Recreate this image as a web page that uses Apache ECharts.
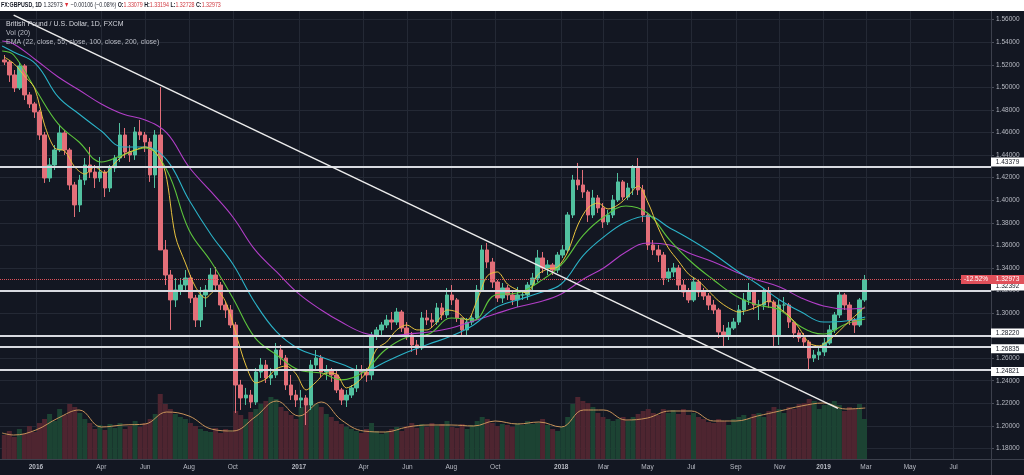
<!DOCTYPE html>
<html><head><meta charset="utf-8">
<script src="https://cdn.jsdelivr.net/npm/echarts@6/dist/echarts.min.js"></script>
<style>html,body{margin:0;padding:0;background:#131722;}#c{width:1024px;height:475px;}</style>
</head><body><div id="c"></div>
<script>
// ---------- DATA (weekly candles) ----------
const firstDate = '2015-11-18';   // first weekly candle
const firstOpen = 1.5243;
const closes = [
1.5225,1.5110,1.4995,1.5190,1.4933,1.4853,1.4782,1.4578,1.4197,1.4312,
1.4445,1.4596,1.4445,1.4135,1.3958,1.4179,1.4312,1.4250,1.4197,1.4250,
1.4108,1.4286,1.4374,1.4578,1.4427,1.4401,1.4605,1.4578,1.4516,1.4224,
1.4578,1.3559,1.3337,1.3116,1.3204,1.3248,1.3310,1.3133,1.2938,1.3160,
1.3204,1.3337,1.3248,1.3071,1.3027,1.2894,1.2362,1.2247,1.2273,1.2211,
1.2477,1.2539,1.2424,1.2451,1.2672,1.2601,1.2362,1.2273,1.2229,1.2247,
1.2185,1.2539,1.2601,1.2477,1.2495,1.2451,1.2318,1.2229,1.2273,1.2336,
1.2495,1.2477,1.2451,1.2805,1.2850,1.2894,1.2938,1.2920,1.3009,1.2867,
1.2805,1.2717,1.2690,1.2956,1.2938,1.2920,1.3045,1.2983,1.3160,1.3116,
1.2956,1.2850,1.2920,1.2956,1.3204,1.3559,1.3452,1.3275,1.3133,1.3222,
1.3160,1.3116,1.3160,1.3160,1.3248,1.3310,1.3488,1.3399,1.3426,1.3381,
1.3514,1.3559,1.3869,1.4179,1.4135,1.4073,1.3869,1.4020,1.3931,1.3807,
1.3869,1.4002,1.4162,1.4028,1.4108,1.4286,1.4091,1.3869,1.3603,1.3559,
1.3514,1.3310,1.3364,1.3399,1.3248,1.3186,1.3116,1.3275,1.3186,1.3151,
1.3071,1.3027,1.2832,1.2805,1.2867,1.2920,1.3027,1.3116,1.3186,1.3071,
1.3071,1.3186,1.3098,1.2805,1.3071,1.3071,1.2920,1.2823,1.2779,1.2743,
1.2601,1.2628,1.2655,1.2734,1.2850,1.2983,1.3160,1.3071,1.2938,1.2894,
1.3116,1.32973];
const highs = [
1.5287,1.5243,1.5154,1.5225,1.5207,1.4959,1.4871,1.4800,1.4605,1.4374,
1.4489,1.4667,1.4622,1.4463,1.4162,1.4224,1.4374,1.4472,1.4312,1.4383,
1.4268,1.4312,1.4401,1.4684,1.4640,1.4489,1.4649,1.4711,1.4605,1.4551,
1.4622,1.5003,1.3647,1.3381,1.3310,1.3310,1.3381,1.3337,1.3160,1.3231,
1.3248,1.3399,1.3408,1.3275,1.3098,1.3071,1.2920,1.2407,1.2336,1.2318,
1.2513,1.2601,1.2584,1.2513,1.2734,1.2717,1.2628,1.2451,1.2318,1.2318,
1.2273,1.2584,1.2672,1.2628,1.2539,1.2513,1.2495,1.2336,1.2318,1.2362,
1.2539,1.2539,1.2513,1.2832,1.2876,1.2920,1.2983,1.3009,1.3045,1.3027,
1.2920,1.2832,1.2761,1.3009,1.3027,1.3000,1.3089,1.3089,1.3222,1.3248,
1.3133,1.2956,1.2956,1.2983,1.3248,1.3603,1.3621,1.3488,1.3293,1.3266,
1.3248,1.3204,1.3231,1.3204,1.3275,1.3355,1.3559,1.3541,1.3470,1.3443,
1.3541,1.3603,1.3895,1.4224,1.4330,1.4268,1.4091,1.4091,1.4046,1.3975,
1.3913,1.4046,1.4241,1.4179,1.4153,1.4312,1.4374,1.4135,1.3887,1.3647,
1.3603,1.3541,1.3399,1.3443,1.3426,1.3293,1.3222,1.3319,1.3293,1.3222,
1.3177,1.3116,1.3045,1.2894,1.2920,1.2956,1.3071,1.3177,1.3266,1.3204,
1.3116,1.3222,1.3231,1.3116,1.3116,1.3142,1.3089,1.2938,1.2850,1.2823,
1.2761,1.2672,1.2690,1.2779,1.2894,1.3009,1.3204,1.3177,1.3098,1.2956,
1.3133,1.3337];
const lows = [
1.5198,1.5048,1.4959,1.4977,1.4888,1.4817,1.4729,1.4534,1.4153,1.4162,
1.4268,1.4427,1.4401,1.4091,1.3851,1.3895,1.4135,1.4197,1.4108,1.4162,
1.4028,1.4073,1.4250,1.4339,1.4374,1.4339,1.4357,1.4534,1.4427,1.4162,
1.4108,1.3559,1.3248,1.2850,1.3053,1.3160,1.3204,1.3089,1.2876,1.2876,
1.3053,1.3186,1.3204,1.3027,1.2956,1.2867,1.2114,1.2141,1.2185,1.2158,
1.2185,1.2424,1.2380,1.2362,1.2424,1.2539,1.2318,1.2229,1.2167,1.2158,
1.2007,1.2141,1.2495,1.2433,1.2407,1.2389,1.2291,1.2185,1.2167,1.2247,
1.2300,1.2424,1.2389,1.2407,1.2761,1.2805,1.2867,1.2850,1.2894,1.2832,
1.2761,1.2655,1.2628,1.2672,1.2894,1.2867,1.2894,1.2938,1.2956,1.3071,
1.2920,1.2805,1.2805,1.2894,1.2938,1.3186,1.3399,1.3222,1.3098,1.3089,
1.3116,1.3071,1.3053,1.3116,1.3116,1.3204,1.3275,1.3355,1.3337,1.3337,
1.3355,1.3488,1.3532,1.3842,1.4091,1.4020,1.3807,1.3842,1.3887,1.3754,
1.3780,1.3842,1.3984,1.4002,1.4002,1.4046,1.4046,1.3807,1.3559,1.3514,
1.3452,1.3248,1.3275,1.3319,1.3204,1.3142,1.3089,1.3098,1.3142,1.3116,
1.3027,1.2991,1.2779,1.2699,1.2761,1.2850,1.2894,1.2983,1.3071,1.3027,
1.2938,1.3027,1.3045,1.2699,1.2717,1.3009,1.2867,1.2779,1.2743,1.2699,
1.2486,1.2566,1.2584,1.2619,1.2717,1.2823,1.2956,1.3027,1.2894,1.2823,
1.2876,1.3098];
const volumes = [
24,28,22,30,25,33,27,36,40,45, 38,50,44,55,52,46,40,36,30,34,
29,35,31,36,30,33,38,32,36,40, 45,65,55,50,45,42,40,36,33,30,
28,27,31,26,30,27,48,44,40,47, 50,55,58,62,60,52,48,44,40,52,
60,58,55,52,45,42,38,35,32,30, 28,26,30,36,28,25,27,30,32,28,
33,36,31,35,32,36,33,35,38,32, 31,35,30,34,38,42,40,36,33,35,
34,32,36,34,38,35,36,40,34,30, 28,33,42,55,62,58,56,52,46,42,
40,38,40,42,38,42,45,48,50,46, 44,50,46,49,45,50,44,46,42,40,
37,36,40,38,34,40,42,44,40,45, 46,42,48,52,50,46,52,50,55,56,
60,58,50,54,56,58,54,48,52,50, 55,40];

// slow indicator samples (month starts)
const monthDates = ['2015-11-15','2015-12-01','2016-01-01','2016-02-01','2016-03-01','2016-04-01','2016-05-01','2016-06-01','2016-07-01','2016-08-01','2016-09-01','2016-10-01','2016-11-01','2016-12-01','2017-01-01','2017-02-01','2017-03-01','2017-04-01','2017-05-01','2017-06-01','2017-07-01','2017-08-01','2017-09-01','2017-10-01','2017-11-01','2017-12-01','2018-01-01','2018-02-01','2018-03-01','2018-04-01','2018-05-01','2018-06-01','2018-07-01','2018-08-01','2018-09-01','2018-10-01','2018-11-01','2018-12-01','2019-01-01','2019-02-01','2019-02-28'];
const ema200 = [1.5411,1.5385,1.5243,1.5092,1.4977,1.4853,1.4764,1.4711,1.4596,1.4294,1.4073,1.3851,1.3559,1.3364,1.3169,1.3027,1.2920,1.2823,1.2796,1.2814,1.2832,1.2867,1.2929,1.2991,1.3053,1.3098,1.3169,1.3301,1.3399,1.3541,1.3621,1.3603,1.3523,1.3452,1.3364,1.3293,1.3231,1.3133,1.3062,1.3036,1.3045];
const ema100 = [1.5367,1.5314,1.5207,1.4915,1.4764,1.4613,1.4472,1.4472,1.4357,1.4002,1.3692,1.3434,1.3089,1.2832,1.2681,1.2610,1.2548,1.2486,1.2566,1.2655,1.2725,1.2796,1.2894,1.3045,1.3116,1.3177,1.3257,1.3514,1.3674,1.3807,1.3860,1.3754,1.3647,1.3523,1.3381,1.3257,1.3116,1.3009,1.2920,1.2929,1.2965];
const ema55 = [1.5323,1.5287,1.4977,1.4676,1.4516,1.4339,1.4401,1.4463,1.4268,1.3736,1.3452,1.3133,1.2779,1.2628,1.2495,1.2468,1.2407,1.2477,1.2672,1.2787,1.2814,1.2956,1.2938,1.3160,1.3177,1.3275,1.3426,1.3692,1.3851,1.3949,1.3887,1.3647,1.3452,1.3293,1.3151,1.3071,1.3027,1.2876,1.2814,1.2903,1.2947];
const volMA = [26,24,29,41,49,32,34,35,47,43,30,28,42,58,43,57,39,28,27,32,34,34,33,38,35,37,32,49,49,39,41,48,48,38,38,43,48,53,56,50,51];
// fast EMA sampled every second weekly candle
const ema22 = [
1.5269,1.5207,1.5101,1.4995,1.4667,1.4463,1.4436,1.4294,1.4232,1.4294,
1.4241,1.4330,1.4410,1.4445,1.4472,1.4427,1.4250,1.3683,1.3443,1.3231,
1.3133,1.3204,1.3098,1.2823,1.2539,1.2380,1.2415,1.2504,1.2530,1.2460,
1.2318,1.2389,1.2468,1.2460,1.2336,1.2380,1.2477,1.2681,1.2743,1.2850,
1.2894,1.2850,1.2850,1.2920,1.3027,1.3009,1.2938,1.3116,1.3328,1.3364,
1.3257,1.3204,1.3177,1.3337,1.3390,1.3408,1.3541,1.3780,1.3931,1.3975,
1.3922,1.3958,1.4037,1.4126,1.3975,1.3754,1.3577,1.3461,1.3346,1.3284,
1.3195,1.3107,1.3045,1.3009,1.3027,1.3062,1.3107,1.3045,1.2974,1.2867,
1.2734,1.2708,1.2761,1.2841,1.2929,1.3009,1.3053];

const levels = [1.43379, 1.32392, 1.28220, 1.26835, 1.24821];
const lastClose = 1.32973;
const changeText = '-12.52%';
const trendLine = [['2015-12-01', 1.5641], ['2019-01-21', 1.2155]];
const priceTicks = [1.18,1.20,1.22,1.24,1.26,1.28,1.30,1.32,1.34,1.36,1.38,1.40,1.42,1.44,1.46,1.48,1.50,1.52,1.54,1.56];
const tickDates = ['2016-01-01','2016-04-01','2016-06-01','2016-08-01','2016-10-01','2017-01-01','2017-04-01','2017-06-01','2017-08-01','2017-10-01','2018-01-01','2018-03-01','2018-05-01','2018-07-01','2018-09-01','2018-11-01','2019-01-01','2019-03-01','2019-05-01','2019-07-01'];
const tickLabels = ['2016','Apr','Jun','Aug','Oct','2017','Apr','Jun','Aug','Oct','2018','Mar','May','Jul','Sep','Nov','2019','Mar','May','Jul'];

// ---------- BUILD ----------
const FONT = "'Liberation Sans', Arial, sans-serif";
const DAY = 86400000;
const ts = s => Date.UTC(+s.slice(0, 4), +s.slice(5, 7) - 1, +s.slice(8, 10));
const t0 = ts(firstDate);
const N = closes.length;
const candleData = [], volData = [];
for (let i = 0; i < N; i++) {
  const o = i === 0 ? firstOpen : closes[i - 1];
  const c = closes[i];
  const d = t0 + i * 7 * DAY;
  candleData.push([d, o, c, Math.min(lows[i], o, c), Math.max(highs[i], o, c)]);
  volData.push({ value: [d, volumes[i]], itemStyle: { color: c >= o ? '#1c4333' : '#4e2530' } });
}
const pair = (dates, vals) => vals.map((v, i) => [ts(dates[i]), v]);
const fastData = ema22.map((v, j) => [t0 + Math.min(2 * j, N - 1) * 7 * DAY, v]);
const tickTs = tickDates.map(ts);

const xMin = ts('2015-11-12');
const xMax = ts('2019-08-22');

const chart = echarts.init(document.getElementById('c'), null, { width: 1024, height: 475 });
const labelColor = '#b8bbc4';
const gridColor = '#242935';

chart.setOption({
  backgroundColor: '#131722',
  animation: false,
  grid: [
    { left: 0, right: 33, top: 11, bottom: 16 },
    { left: 0, right: 33, top: 359, bottom: 16 }
  ],
  xAxis: [
    { type: 'value', gridIndex: 0, min: xMin, max: xMax,
      axisLine: { show: false },
      axisTick: { show: false, customValues: tickTs },
      axisLabel: { customValues: tickTs, margin: 5, color: labelColor, fontSize: 6.5, fontFamily: FONT,
        formatter: v => { const k = tickTs.indexOf(v); const s = k >= 0 ? tickLabels[k] : '';
          return /^\d{4}$/.test(s) ? '{b|' + s + '}' : '{n|' + s + '}'; },
        rich: { b: { fontWeight: 'bold', fontSize: 6.5, color: labelColor, fontFamily: FONT },
                n: { fontSize: 6.5, color: labelColor, fontFamily: FONT } } },
      splitLine: { show: true, lineStyle: { color: gridColor, width: 1 } } },
    { type: 'value', gridIndex: 1, min: xMin, max: xMax, show: false, splitLine: { show: false } }
  ],
  yAxis: [
    { type: 'value', gridIndex: 0, position: 'right', min: 1.1706, max: 1.5677,
      axisLine: { show: false },
      axisTick: { show: true, length: 3, customValues: priceTicks, lineStyle: { color: '#4a4e5a' } },
      axisLabel: { customValues: priceTicks, formatter: v => v.toFixed(5), color: labelColor, fontSize: 6.5, fontFamily: FONT, margin: 5 },
      splitLine: { show: true, lineStyle: { color: gridColor, width: 1 } } },
    { type: 'value', gridIndex: 1, min: 0, max: 100, show: false, splitLine: { show: false } }
  ],
  series: [
    { type: 'bar', name: 'Vol', xAxisIndex: 1, yAxisIndex: 1, data: volData, barWidth: 5, z: 1, silent: true },
    { type: 'line', name: 'Vol MA', xAxisIndex: 1, yAxisIndex: 1, data: pair(monthDates, volMA), smooth: 0.4,
      showSymbol: false, lineStyle: { color: '#c8935a', width: 1 }, z: 2, silent: true },
    { type: 'candlestick', name: 'GBPUSD', xAxisIndex: 0, yAxisIndex: 0, data: candleData,
      encode: { x: 0, y: [1, 2, 3, 4] }, barWidth: 4, z: 3,
      itemStyle: { color: '#52c1a0', color0: '#e36f79', borderColor: '#52c1a0', borderColor0: '#e36f79', borderWidth: 1 } },
    { type: 'line', name: 'EMA200', data: pair(monthDates, ema200), smooth: 0.4, showSymbol: false,
      lineStyle: { color: '#b23ec8', width: 1.1 }, z: 4 },
    { type: 'line', name: 'EMA100', data: pair(monthDates, ema100), smooth: 0.4, showSymbol: false,
      lineStyle: { color: '#2bb3c8', width: 1.1 }, z: 4 },
    { type: 'line', name: 'EMA55', data: pair(monthDates, ema55), smooth: 0.4, showSymbol: false,
      lineStyle: { color: '#5cc43c', width: 1.1 }, z: 4 },
    { type: 'line', name: 'EMA22', data: fastData, smooth: 0.3, showSymbol: false,
      lineStyle: { color: '#e8c23e', width: 1 }, z: 4 },
    { type: 'line', name: 'Trend', data: trendLine.map(p => [ts(p[0]), p[1]]), showSymbol: false,
      lineStyle: { color: '#ececec', width: 1.5 }, z: 6,
      markLine: { silent: true, symbol: ['none', 'none'], label: { show: false },
        lineStyle: { color: '#d8dae0', width: 2, type: 'solid' },
        data: levels.map(v => ({ yAxis: v })).concat([{ yAxis: lastClose, lineStyle: { color: '#e0505a', width: 1, type: 'dotted' } }]) } }
  ]
});

// ---------- overlay texts / tags ----------
const py = v => chart.convertToPixel({ gridIndex: 0 }, [ts('2018-01-01'), v])[1];
const HF = 6.8;
const g = [
  { type: 'rect', shape: { x: 0, y: 0, width: 1024, height: 11 }, style: { fill: '#ffffff' }, z: 100 },
  { type: 'text', x: 1, y: 5.5, scaleX: 0.78, z: 101, style: {
      text: '{t|FX:GBPUSD, 1D} {n|1.32973} {r|▼} {n|−0.00106 (−0.08%)} {t|O:}{v|1.33079} {t|H:}{v|1.33194} {t|L:}{v|1.32728} {t|C:}{v|1.32973}',
      verticalAlign: 'middle', fontFamily: FONT, fontSize: HF,
      rich: { t: { fill: '#131722', fontWeight: 'bold', fontSize: HF, fontFamily: FONT },
              n: { fill: '#2a2e39', fontSize: HF, fontFamily: FONT },
              r: { fill: '#e0303a', fontSize: HF, fontFamily: FONT },
              v: { fill: '#d0383f', fontSize: HF, fontFamily: FONT } } } },
  { type: 'text', x: 6, y: 24, z: 50, style: { text: 'British Pound / U.S. Dollar, 1D, FXCM', fill: '#d4d6dd', fontSize: 7, fontFamily: FONT, verticalAlign: 'middle' } },
  { type: 'text', x: 6, y: 33, z: 50, style: { text: 'Vol (20)', fill: '#b8bbc4', fontSize: 7, fontFamily: FONT, verticalAlign: 'middle' } },
  { type: 'text', x: 6, y: 42, z: 50, style: { text: 'EMA (22, close, 55, close, 100, close, 200, close)', fill: '#b8bbc4', fontSize: 7, fontFamily: FONT, verticalAlign: 'middle' } },
  { type: 'line', shape: { x1: 991.5, y1: 11, x2: 991.5, y2: 475 }, style: { stroke: '#3c404c', lineWidth: 1 }, z: 40 },
  { type: 'line', shape: { x1: 0, y1: 459.5, x2: 1024, y2: 459.5 }, style: { stroke: '#3c404c', lineWidth: 1 }, z: 40 }
];
levels.forEach(v => {
  const y = py(v);
  g.push({ type: 'rect', shape: { x: 991, y: y - 4.5, width: 33, height: 9 }, style: { fill: '#ffffff' }, z: 60 });
  g.push({ type: 'text', x: 1007.5, y: y, z: 61, style: { text: v.toFixed(5), fill: '#131722', fontSize: 6.5, fontFamily: FONT, align: 'center', verticalAlign: 'middle' } });
});
{
  const y = py(lastClose);
  g.push({ type: 'rect', shape: { x: 961, y: y - 4.5, width: 63, height: 9 }, style: { fill: '#e0505a' }, z: 70 });
  g.push({ type: 'text', x: 976, y: y, z: 71, style: { text: changeText, fill: '#ffffff', fontSize: 6.5, fontFamily: FONT, align: 'center', verticalAlign: 'middle' } });
  g.push({ type: 'text', x: 1007.5, y: y, z: 71, style: { text: lastClose.toFixed(5), fill: '#ffffff', fontSize: 6.5, fontFamily: FONT, align: 'center', verticalAlign: 'middle' } });
}
chart.setOption({ graphic: g });
</script>
</body></html>
